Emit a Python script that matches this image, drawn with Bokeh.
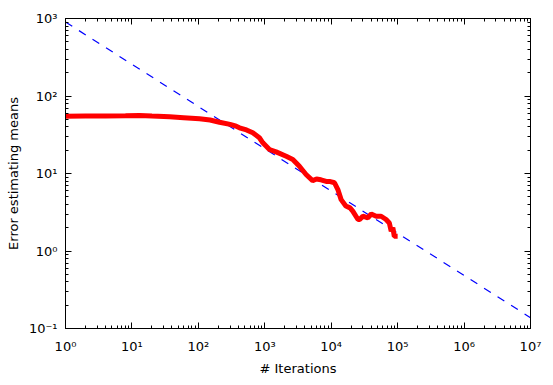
from bokeh.plotting import figure
from bokeh.models import Range1d, FixedTicker, LogAxis, CustomJSTickFormatter
from bokeh.embed import file_html
from bokeh.resources import INLINE

# Red curve: error estimating means vs. number of iterations
iters = [1, 2, 4, 8, 13, 20, 37, 60, 104, 150, 208, 300, 371, 416, 530, 660,
         830, 935, 1175, 1480, 2100, 2640, 3320, 4180, 5250, 6000, 7000, 8400,
         9400, 11200, 12600, 14100, 16600, 19200, 21100, 25300, 26800, 29900,
         35600, 40000, 47500, 56400, 67000, 75000, 80000, 84700, 89000, 100000]
error = [54.8, 55.0, 55.2, 55.5, 56.0, 55.0, 53.8, 52.5, 51.0, 49.0, 45.9, 43.0,
         40.8, 38.9, 36.5, 33.5, 28.9, 24.9, 20.4, 19.0, 16.7, 15.2, 12.4, 9.7,
         8.1, 8.5, 8.3, 7.9, 7.9, 7.6, 6.2, 4.6, 3.8, 3.6, 3.27, 2.55, 2.55, 2.81,
         2.68, 3.0, 2.81, 2.81, 2.55, 2.3, 1.8, 2.0, 1.55, 1.55]

# Blue dashed reference line (end points)
ref_x = [1, 1e7]
ref_y = [900, 0.138]

x_major = [1, 10, 100, 1e3, 1e4, 1e5, 1e6, 1e7]
y_major = [0.1, 1, 10, 100, 1000]
x_minor = [m * 10 ** e for e in range(0, 7) for m in range(2, 10)]
y_minor = [m * 10.0 ** e for e in range(-1, 3) for m in range(2, 10)]

FONT = "DejaVu Sans"
FS = "13px"

p = figure(x_axis_type="log", y_axis_type="log",
           x_range=Range1d(1, 1e7), y_range=Range1d(0.1, 1000),
           frame_width=465, frame_height=310,
           min_border_left=65, min_border_right=14, min_border_top=18,
           min_border_bottom=10,
           output_backend="svg", toolbar_location=None)
p.grid.visible = False
p.outline_line_color = "black"
p.outline_line_width = 1
p.background_fill_color = "white"
p.border_fill_color = "white"

fmt_code = """
const sup = {'-':'\u207b','0':'\u2070','1':'\u00b9','2':'\u00b2','3':'\u00b3','4':'\u2074','5':'\u2075','6':'\u2076','7':'\u2077','8':'\u2078','9':'\u2079'};
const e = Math.round(Math.log10(tick));
return '10' + String(e).split('').map(c => sup[c]).join('');
"""

def style_axis(ax, ticks, minors, labels=True):
    ax.ticker = FixedTicker(ticks=ticks, minor_ticks=minors)
    ax.axis_line_color = "black"
    ax.major_tick_in = 6
    ax.major_tick_out = 0
    ax.minor_tick_in = 3
    ax.minor_tick_out = 0
    ax.major_tick_line_color = "black"
    ax.minor_tick_line_color = "black"
    if labels:
        ax.formatter = CustomJSTickFormatter(code=fmt_code)
        ax.major_label_text_font = FONT
        ax.major_label_text_font_size = FS
        ax.major_label_text_color = "black"
        ax.axis_label_text_font = FONT
        ax.axis_label_text_font_size = FS
        ax.axis_label_text_font_style = "normal"
        ax.axis_label_text_color = "black"
    else:
        ax.major_label_text_font_size = "1px"
        ax.major_label_text_alpha = 0
        ax.major_label_standoff = 0

xa = p.xaxis[0]
ya = p.yaxis[0]
style_axis(xa, x_major, x_minor)
style_axis(ya, y_major, y_minor)
xa.axis_label = "# Iterations"
ya.axis_label = "Error estimating means"
xa.major_label_standoff = 10
ya.major_label_standoff = 8
xa.axis_label_standoff = 4
ya.axis_label_standoff = 5

top = LogAxis()
right = LogAxis()
style_axis(top, x_major, x_minor, labels=False)
style_axis(right, y_major, y_minor, labels=False)
p.add_layout(top, "above")
p.add_layout(right, "right")

p.line(ref_x, ref_y, line_color="#0000ff", line_width=1.2, line_dash="8 8")
p.line(iters, error, line_color="#ff0000", line_width=5)

open("out.html", "w").write(file_html(p, INLINE))
